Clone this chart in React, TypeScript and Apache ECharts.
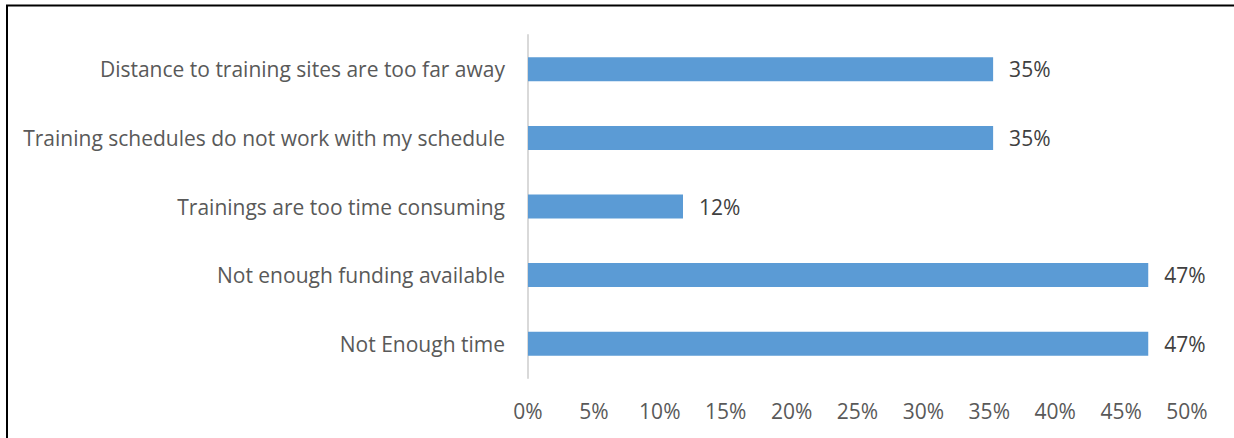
import React, { useEffect, useRef } from "react";
import * as echarts from "echarts";

const categories = [
  "Not Enough time",
  "Not enough funding available",
  "Trainings are too time consuming",
  "Training schedules do not work with my schedule",
  "Distance to training sites are too far away",
];
const values = [47.06, 47.06, 11.76, 35.29, 35.29];
const xTicks = [0, 5, 10, 15, 20, 25, 30, 35, 40, 45, 50];

const FONT = "'Open Sans', 'Noto Sans', sans-serif";

export default function App() {
  const ref = useRef<HTMLDivElement>(null);
  useEffect(() => {
    if (!ref.current) return;
    const chart = echarts.init(ref.current, undefined, { renderer: "svg" });
    chart.setOption({
      animation: false,
      grid: { left: 528, right: 47, top: 35, bottom: 60, containLabel: false },
      xAxis: {
        type: "value",
        min: xTicks[0],
        max: xTicks[xTicks.length - 1],
        interval: 5,
        axisLine: { show: false },
        axisTick: { show: false },
        splitLine: { show: false },
        axisLabel: {
          formatter: (v: number) => `${v}%`,
          color: "#595959",
          fontSize: 21,
          fontFamily: FONT,
          margin: 22,
        },
      },
      yAxis: {
        type: "category",
        data: categories,
        axisLine: { show: true, lineStyle: { color: "#d9d9d9", width: 2 } },
        axisTick: { show: false },
        axisLabel: {
          color: "#595959",
          fontSize: 21,
          fontFamily: FONT,
          margin: 23,
        },
      },
      series: [
        {
          type: "bar",
          data: values,
          barWidth: 24,
          itemStyle: { color: "#5b9bd5" },
          label: {
            show: true,
            position: "right",
            distance: 16,
            formatter: (p: any) => `${Math.round(p.value)}%`,
            color: "#404040",
            fontSize: 21,
            fontFamily: FONT,
          },
        },
      ],
      graphic: [
        {
          type: "polyline",
          shape: { points: [[7, 438], [7, 5.5], [1234, 5.5]] },
          style: { stroke: "#000", lineWidth: 2, fill: null },
        },
      ],
    });
    return () => chart.dispose();
  }, []);
  return (
    <div
      ref={ref}
      style={{ position: "fixed", left: 0, top: 0, width: 1234, height: 438, background: "#fff" }}
    />
  );
}
